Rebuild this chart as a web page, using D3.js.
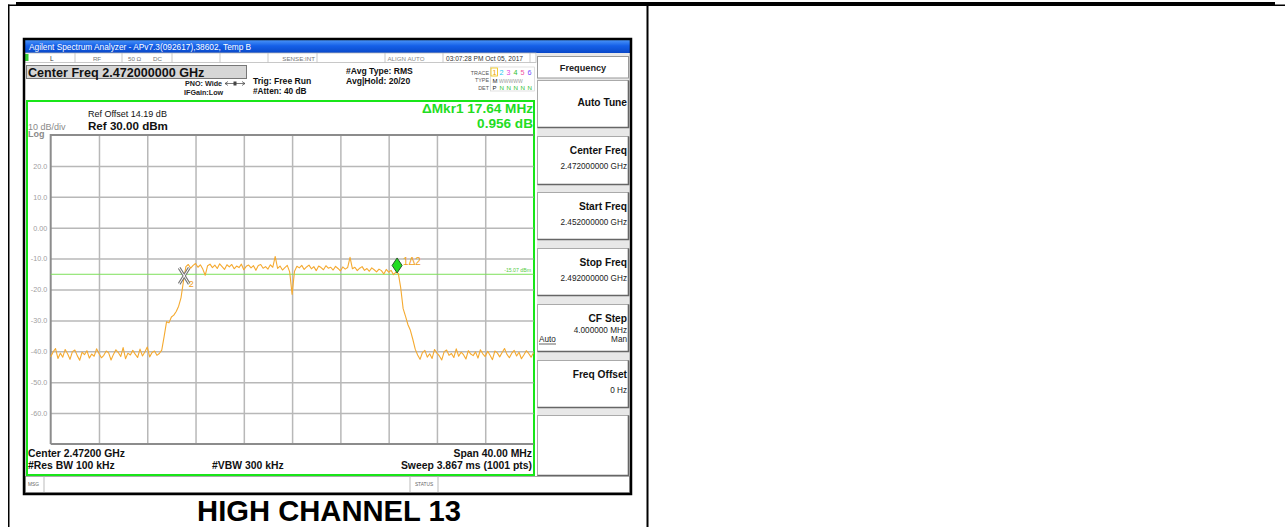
<!DOCTYPE html>
<html>
<head>
<meta charset="utf-8">
<script src="https://cdn.jsdelivr.net/npm/d3@7"></script>
<style>
  body { margin: 0; background: #fff; }
  text { font-family: "Liberation Sans", Arial, sans-serif; }
</style>
</head>
<body>
<script>
// sweep / display settings
const startGHz = 2.452;
const stopGHz = 2.492;
const refLevel = 30;
const dbPerDiv = 10;
const yTickValues = [20, 10, 0, -10, -20, -30, -40, -50, -60];
const yTickLabels = ['20.0', '10.0', '0.00', '-10.0', '-20.0', '-30.0', '-40.0', '-50.0', '-60.0'];
const xGridGHz = [2.456, 2.460, 2.464, 2.468, 2.472, 2.476, 2.480, 2.484, 2.488];

// trace (dBm), evenly spaced sweep points from start to stop
const traceDbm = [
  -41.8, -40.2, -39.1, -42.3, -40.6, -41.9, -39.4, -40.8, -42.6, -40.1,
  -39.6, -41.4, -42.9, -40.3, -41.1, -39.8, -42.2, -40.9, -41.6, -39.2,
  -40.7, -42.1, -41.3, -39.9, -40.5, -42.8, -41.0, -39.5, -40.4, -41.7,
  -38.8, -42.4, -40.6, -41.2, -39.7, -40.9, -42.0, -39.3, -41.5, -40.2,
  -38.6, -41.8, -40.4, -39.9, -41.3, -40.7, -39.6,
  -35.2, -30.4, -30.8, -28.9, -28.3, -27.1, -25.4, -22.6, -17.3,
  -12.6, -11.9, -13.1, -12.2, -11.6, -12.8, -12.0, -13.4, -15.4, -12.3,
  -11.8, -12.9, -12.1, -13.2, -11.7, -12.6, -13.5, -12.0, -12.7, -11.9,
  -13.3, -12.4, -12.9, -11.8, -13.6, -12.5, -12.1, -13.0, -12.3, -13.8,
  -12.2, -11.9, -13.1, -12.6, -13.4, -12.0, -12.8, -9.3, -13.2, -12.4,
  -13.7, -12.9, -12.2, -14.3, -21.6, -14.1, -12.5, -13.0, -12.2, -13.5,
  -12.7, -12.1, -13.3, -12.6, -13.9, -12.4, -12.9, -13.6, -12.3, -13.1,
  -12.8, -13.7, -12.5, -13.2, -14.0, -12.7, -13.4, -12.9, -9.6, -13.3,
  -12.8, -13.9, -13.1, -12.6, -13.8, -13.2, -14.1, -13.0, -13.6, -14.3,
  -13.4, -13.9, -15.0, -13.5, -14.4, -13.8, -15.2, -14.4, -14.8,
  -19.5, -26.2, -28.7, -31.4, -33.2, -36.1, -39.3,
  -41.2, -42.6, -40.4, -39.7, -41.9, -40.8, -42.3, -39.4, -40.6, -41.5,
  -42.8, -40.1, -39.6, -41.3, -40.7, -42.0, -39.2, -41.6, -40.3, -41.1,
  -42.5, -39.8, -40.9, -41.4, -40.2, -42.2, -39.5, -40.8, -41.7, -40.0,
  -41.3, -42.7, -39.9, -40.5, -41.8, -40.4, -39.1, -41.0, -42.1, -40.6,
  -39.7, -41.5, -40.3, -42.4, -41.2, -39.8, -40.7, -41.9, -40.5
];

// markers: 2 = reference, 1 = delta
const marker2 = { f: 2.46306, dbm: -15.6 };
const deltaMHz = 17.64;
const deltaDb = 0.956;
const displayLine = -15.07;

const softkeys = [
  { title: 'Auto Tune', sub: [] },
  { title: 'Center Freq', sub: ['2.472000000 GHz'] },
  { title: 'Start Freq', sub: ['2.452000000 GHz'] },
  { title: 'Stop Freq', sub: ['2.492000000 GHz'] },
  { title: 'CF Step', sub: ['4.000000 MHz'], auto: true },
  { title: 'Freq Offset', sub: ['0 Hz'] },
  { title: '', sub: [] }
];

const W = 1285, H = 527;
const svg = d3.select('body').append('svg')
  .attr('width', W)
  .attr('height', H);

const txt = (x, y, s, size, opts = {}) => svg.append('text')
  .attr('x', x).attr('y', y)
  .attr('font-size', size)
  .attr('font-weight', opts.bold ? 'bold' : 'normal')
  .attr('fill', opts.fill || '#000')
  .attr('text-anchor', opts.anchor || 'start')
  .text(s);

// page table lines
svg.append('rect').attr('x', 16).attr('y', 2).attr('width', 1259).attr('height', 4).attr('fill', '#000');
svg.append('rect').attr('x', 1275).attr('y', 4.5).attr('width', 10).attr('height', 1.5).attr('fill', '#000');
svg.append('rect').attr('x', 8).attr('y', 4.5).attr('width', 10).attr('height', 1.5).attr('fill', '#000');
svg.append('rect').attr('x', 8).attr('y', 4.5).attr('width', 1.5).attr('height', H).attr('fill', '#000');
svg.append('rect').attr('x', 646.5).attr('y', 5).attr('width', 2).attr('height', H).attr('fill', '#000');

// analyzer screenshot frame
svg.append('rect').attr('x', 23).attr('y', 38).attr('width', 609).attr('height', 457).attr('fill', '#fff');

const grad = svg.append('defs').append('linearGradient')
  .attr('id', 'tb').attr('x1', 0).attr('y1', 0).attr('x2', 0).attr('y2', 1);
grad.append('stop').attr('offset', '0%').attr('stop-color', '#4a94f8');
grad.append('stop').attr('offset', '45%').attr('stop-color', '#1560e8');
grad.append('stop').attr('offset', '100%').attr('stop-color', '#0a48c8');
svg.append('rect').attr('x', 25).attr('y', 40).attr('width', 605).attr('height', 13).attr('fill', 'url(#tb)');
txt(29, 50, 'Agilent Spectrum Analyzer - APv7.3(092617),38602, Temp B', 8.3, { fill: '#fff' });

// status row
svg.append('rect').attr('x', 25).attr('y', 53).attr('width', 511).attr('height', 9.5)
  .attr('fill', '#fff').attr('stroke', '#bbb').attr('stroke-width', 0.8);
[75, 122, 172, 220, 268, 317, 385, 443, 530].forEach(x => {
  svg.append('line').attr('x1', x).attr('x2', x).attr('y1', 53).attr('y2', 62.5)
    .attr('stroke', '#bbb').attr('stroke-width', 0.8);
});
svg.append('rect').attr('x', 25).attr('y', 54).attr('width', 3.5).attr('height', 7).attr('fill', '#3c3');
txt(50, 61, 'L', 6.5, { fill: '#333' });
txt(97, 61, 'RF', 6.2, { fill: '#777', anchor: 'middle' });
txt(128, 61, '50 Ω', 6.2, { fill: '#777' });
txt(153, 61, 'DC', 6.2, { fill: '#777' });
txt(315, 61, 'SENSE:INT', 6.2, { fill: '#777', anchor: 'end' });
txt(406, 61, 'ALIGN AUTO', 6.2, { fill: '#888', anchor: 'middle' });
txt(446, 61, '03:07:28 PM Oct 05, 2017', 6.6, { fill: '#333' });

// center freq box
svg.append('rect').attr('x', 26.5).attr('y', 65.5).attr('width', 220).attr('height', 13)
  .attr('fill', '#d6d6d6').attr('stroke', '#777').attr('stroke-width', 1);
txt(28, 76.5, 'Center Freq 2.472000000 GHz', 12.6, { bold: true, fill: '#111' });

txt(185, 86, 'PNO: Wide', 7.2, { bold: true, fill: '#222' });
// small arrow pair after PNO
svg.append('path').attr('d', 'M225,83.5H245M225,83.5l3,-2M225,83.5l3,2M245,83.5l-3,-2M245,83.5l-3,2')
  .attr('stroke', '#444').attr('stroke-width', 0.7).attr('fill', 'none');
svg.append('rect').attr('x', 233.5).attr('y', 81.5).attr('width', 3).attr('height', 4).attr('fill', '#444');
txt(184, 95, 'IFGain:Low', 7.2, { bold: true, fill: '#222' });
txt(253, 84, 'Trig: Free Run', 8.6, { bold: true, fill: '#111' });
txt(253, 94, '#Atten: 40 dB', 8.3, { bold: true, fill: '#111' });
txt(346, 74, '#Avg Type: RMS', 8.6, { bold: true, fill: '#111' });
txt(346, 84, 'Avg|Hold: 20/20', 8.6, { bold: true, fill: '#111' });

// trace table
txt(489, 74.5, 'TRACE', 5.4, { fill: '#555', anchor: 'end' });
txt(489, 82, 'TYPE', 5.4, { fill: '#555', anchor: 'end' });
txt(489, 89.5, 'DET', 5.4, { fill: '#555', anchor: 'end' });
svg.append('rect').attr('x', 490.5).attr('y', 67).attr('width', 44).attr('height', 24)
  .attr('fill', 'none').attr('stroke', '#ccc').attr('stroke-width', 0.6);
svg.append('rect').attr('x', 491).attr('y', 68).attr('width', 6.5).attr('height', 8)
  .attr('fill', 'none').attr('stroke', '#f0c000').attr('stroke-width', 0.8);
const traceNumColors = ['#f0a000', '#20c8f0', '#e040e0', '#30c030', '#f050a0', '#7050ff'];
traceNumColors.forEach((c, i) => txt(492.5 + i * 7, 75, String(i + 1), 7.2, { fill: c }));
txt(492.5, 82.5, 'M', 6, { fill: '#222' });
txt(499, 82.5, 'WWWWW', 5, { fill: '#999' });
txt(492.5, 90, 'P', 6, { fill: '#222' });
['N', 'N', 'N', 'N', 'N'].forEach((n, i) => txt(499.5 + i * 7, 90, n, 6.2, { fill: '#30c030' }));

// softkey panel
const skX = 537, skW = 92;
svg.append('rect').attr('x', skX).attr('y', 53).attr('width', skW).attr('height', 440).attr('fill', '#e8e8e8');
svg.append('rect').attr('x', skX + 0.5).attr('y', 56.5).attr('width', skW - 1).attr('height', 21.5)
  .attr('fill', '#fff').attr('stroke', '#999').attr('stroke-width', 1);
txt(skX + skW / 2, 70.5, 'Frequency', 9.2, { bold: true, fill: '#222', anchor: 'middle' });
const skTops = [80, 136, 192, 248, 304, 360, 415];
const skH = [47, 48, 47, 47, 47, 47, 60];
softkeys.forEach((k, i) => {
  const y = skTops[i];
  svg.append('rect').attr('x', skX + 0.5).attr('y', y + 0.5).attr('width', skW - 1).attr('height', skH[i])
    .attr('fill', '#fff').attr('stroke', '#aaa').attr('stroke-width', 1);
  svg.append('path')
    .attr('d', `M${skX + 0.5},${y + skH[i] + 0.5}H${skX + skW - 0.5}V${y + 0.5}`)
    .attr('fill', 'none').attr('stroke', '#666').attr('stroke-width', 1.6);
  const titleY = i === 0 ? y + 26 : y + 18;
  if (k.title) txt(skX + skW - 2, titleY, k.title, 10.2, { bold: true, fill: '#111', anchor: 'end' });
  k.sub.forEach((s, j) => txt(skX + skW - 2, titleY + (i === 4 ? 11 : 14.5) + j * 11, s, 8.2, { fill: '#222', anchor: 'end' }));
  if (k.auto) {
    txt(skX + 2, y + 38, 'Auto', 8.2, { fill: '#222' });
    svg.append('line').attr('x1', skX + 2).attr('x2', skX + 19).attr('y1', y + 40).attr('y2', y + 40)
      .attr('stroke', '#222').attr('stroke-width', 0.7);
    txt(skX + skW - 2, y + 38, 'Man', 8.2, { fill: '#222', anchor: 'end' });
  }
});

// bottom status bar
svg.append('rect').attr('x', 25.5).attr('y', 476.5).attr('width', 604).attr('height', 16)
  .attr('fill', '#fff').attr('stroke', '#aaa').attr('stroke-width', 1);
[44, 410, 438].forEach(x => {
  svg.append('line').attr('x1', x).attr('x2', x).attr('y1', 476.5).attr('y2', 492.5)
    .attr('stroke', '#bbb').attr('stroke-width', 1);
});
txt(28, 486, 'MSG', 4.8, { fill: '#666' });
txt(424, 486, 'STATUS', 4.8, { fill: '#666', anchor: 'middle' });

// outer black frame of the screenshot
svg.append('rect').attr('x', 24).attr('y', 39).attr('width', 607).attr('height', 455)
  .attr('fill', 'none').attr('stroke', '#000').attr('stroke-width', 2.5);

// measurement area (green border)
svg.append('rect').attr('x', 27).attr('y', 101).attr('width', 507).attr('height', 374)
  .attr('fill', 'none').attr('stroke', '#19e619').attr('stroke-width', 2);

txt(533, 113, '\u0394Mkr1 17.64 MHz', 13.6, { bold: true, fill: '#22dd22', anchor: 'end' });
txt(533, 127.5, '0.956 dB', 13.6, { bold: true, fill: '#22dd22', anchor: 'end' });
txt(88, 117, 'Ref Offset 14.19 dB', 9, { fill: '#111' });
txt(88, 129.5, 'Ref 30.00 dBm', 11.6, { bold: true, fill: '#111' });
txt(28, 129.5, '10 dB/div', 9, { fill: '#8a8a8a' });
txt(28, 137, 'Log', 9, { bold: true, fill: '#8a8a8a' });

// plot
const px0 = 50.7, px1 = 533.5, py0 = 135, py1 = 444;
const x = d3.scaleLinear().domain([startGHz, stopGHz]).range([px0, px1]);
const y = d3.scaleLinear().domain([refLevel - 10 * dbPerDiv, refLevel]).range([py1, py0]);
const idx = d3.scaleLinear().domain([0, traceDbm.length - 1]).range([startGHz, stopGHz]);

const gx = svg.append('g').attr('transform', `translate(0,${py1})`)
  .call(d3.axisBottom(x).tickValues(xGridGHz).tickSize(-(py1 - py0)).tickFormat(''));
gx.select('.domain').remove();
gx.selectAll('line').attr('stroke', '#b8b8b8').attr('stroke-width', 1.5);

const gy = svg.append('g').attr('transform', `translate(${px0},0)`)
  .call(d3.axisLeft(y).tickValues(yTickValues).tickSize(-(px1 - px0)).tickPadding(3.5)
    .tickFormat((d, i) => yTickLabels[i]));
gy.select('.domain').remove();
gy.selectAll('line').attr('stroke', '#b8b8b8').attr('stroke-width', 1.5);
gy.selectAll('text').attr('fill', '#a0a0a0').attr('font-size', 7.2)
  .attr('font-family', '"Liberation Sans", Arial, sans-serif');

svg.append('path')
  .attr('d', `M${px0},${py1}V${py0}H${px1}`)
  .attr('fill', 'none').attr('stroke', '#8c8c8c').attr('stroke-width', 2);
svg.append('line').attr('x1', px0).attr('x2', px1).attr('y1', py1).attr('y2', py1)
  .attr('stroke', '#8c8c8c').attr('stroke-width', 2);

// display line
svg.append('line').attr('x1', px0).attr('x2', px1).attr('y1', y(displayLine)).attr('y2', y(displayLine))
  .attr('stroke', '#7ee05a').attr('stroke-width', 1);
txt(531, y(displayLine) - 2.5, '-15.07 dBm', 5.2, { fill: '#55cc44', anchor: 'end' });

// trace
const line = d3.line()
  .x((d, i) => x(idx(i)))
  .y(d => y(d));
svg.append('path').datum(traceDbm)
  .attr('d', line)
  .attr('fill', 'none')
  .attr('stroke', '#f5aa30')
  .attr('stroke-width', 1.1)
  .attr('stroke-linejoin', 'round');

// marker 2 (X)
const m2x = x(marker2.f), m2y = y(marker2.dbm);
const xPath = `M${m2x - 5},${m2y - 8}L${m2x + 5},${m2y + 8}M${m2x + 5},${m2y - 8}L${m2x - 5},${m2y + 8}`;
svg.append('path').attr('d', xPath).attr('stroke', '#777').attr('stroke-width', 3).attr('fill', 'none');
svg.append('path').attr('d', xPath).attr('stroke', '#fff').attr('stroke-width', 1).attr('fill', 'none');
txt(m2x + 4.5, m2y + 11, '2', 9, { fill: '#f0a020' });

// marker 1 (delta, diamond)
const m1x = x(marker2.f + deltaMHz / 1000), m1y = y(marker2.dbm + deltaDb);
svg.append('path')
  .attr('d', `M${m1x},${m1y}L${m1x + 5},${m1y - 7.5}L${m1x},${m1y - 15}L${m1x - 5},${m1y - 7.5}Z`)
  .attr('fill', '#22dd22').attr('stroke', '#2a5a2a').attr('stroke-width', 1);
txt(m1x + 6, m1y - 8, '1\u03942', 10, { fill: '#f0a020' });

// bottom annotations
txt(28, 457, 'Center 2.47200 GHz', 10.4, { bold: true, fill: '#111' });
txt(28, 468.5, '#Res BW 100 kHz', 10.4, { bold: true, fill: '#111' });
txt(212, 468.5, '#VBW 300 kHz', 10.4, { bold: true, fill: '#111' });
txt(532, 457, 'Span 40.00 MHz', 10.4, { bold: true, fill: '#111', anchor: 'end' });
txt(532, 468.5, 'Sweep  3.867 ms (1001 pts)', 10.4, { bold: true, fill: '#111', anchor: 'end' });

// caption
txt(329, 521, 'HIGH CHANNEL 13', 29.2, { bold: true, fill: '#000', anchor: 'middle' });
</script>
</body>
</html>
